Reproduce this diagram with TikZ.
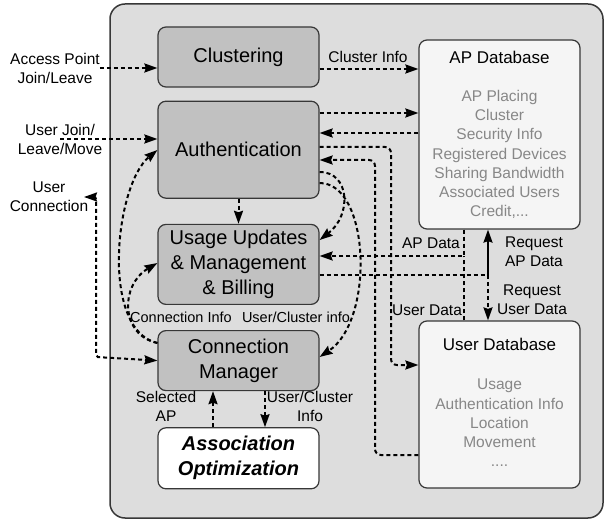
\documentclass[tikz,border=0pt]{standalone}
\usepackage{fontspec}
\setmainfont{Liberation Sans}
\usetikzlibrary{arrows.meta, positioning}
\definecolor{panelgray}{RGB}{221,221,221}
\definecolor{boxgray}{RGB}{193,193,193}
\definecolor{dbfill}{RGB}{245,245,245}
\definecolor{itemgray}{RGB}{135,135,135}
\definecolor{rim}{RGB}{55,55,55}
\def\boxfont{\fontsize{20}{25}\selectfont}
\def\lblfont{\fontsize{15.5}{19}\selectfont}
\tikzstyle{panel} = [draw=rim, line width=1.5pt, rounded corners=15pt, fill=panelgray]
\tikzstyle{block} = [rectangle, rounded corners=8pt, draw=rim, line width=1.2pt, fill=boxgray, minimum width=161pt, inner sep=0pt, align=center, font=\boxfont]
\tikzstyle{dbase} = [block, fill=dbfill]
\tikzstyle{dbtitle} = [inner sep=0pt, font=\fontsize{17}{20}\selectfont]
\tikzstyle{items} = [inner sep=0pt, align=center, text=itemgray, font=\fontsize{15.5}{19.2}\selectfont]
\tikzstyle{lbl} = [inner sep=0pt, align=center, font=\lblfont]
\tikzstyle{dline} = [line width=2pt, dash pattern=on 4pt off 3pt, rounded corners=6pt]
\tikzstyle{aro} = [->, dline]

\begin{document}
\begin{tikzpicture}[x=1pt, y=-1pt, >={Stealth[length=13pt,width=9pt,inset=1.5pt]}]
  \useasboundingbox (0,0) rectangle (605,521);
  \draw[panel] (110,4) rectangle (603,518);

  % processing stack
  \node (clus)  [block, minimum height=60pt] at (238.5,57) {Clustering};
  \node (auth)  [block, minimum height=97pt, below=13pt of clus] {Authentication};
  \node (usage) [block, minimum height=80pt, below=25pt of auth] {Usage Updates\\\& Management\\\& Billing};
  \node (cm)    [block, minimum height=60pt, below=25pt of usage] {Connection\\Manager};
  \node (assoc) [block, minimum height=61pt, fill=white, font=\boxfont\bfseries\itshape, below=36pt of cm] {Association\\Optimization};

  % databases
  \node (apdb) [dbase, minimum height=189pt] at (499.5,134.5) {};
  \node (aptitle) [dbtitle] at (499.5,57) {AP Database};
  \node (apitems) [items] at (499.5,154.5) {AP Placing\\Cluster\\Security Info\\Registered Devices\\Sharing Bandwidth\\Associated Users\\Credit,...};
  \node (udb) [dbase, minimum height=167pt] at (499.5,404.5) {};
  \node (utitle) [dbtitle] at (499.5,344) {User Database};
  \node (uitems) [items] at (499.5,423) {Usage\\Authentication Info\\Location\\Movement\\....};

  % outside inputs
  \node (apjoin) [lbl] at (55,68) {Access Point\\Join/Leave};
  \node (ujoin)  [lbl] at (60,139) {User Join/\\Leave/Move};
  \node (ucon)   [lbl] at (49,197) {User\\Connection};
  \coordinate (uctip) at (84,197);

  \draw [aro] (apjoin.east) -- (apjoin.east -| clus.west);
  \draw [aro] (ujoin.center) -- (ujoin.center -| auth.west);
  \draw [aro,<->,rounded corners=2pt] (uctip) -| (96,357) -- (cm.west);

  % labels
  \node (lclus) [lbl] at (368,57) {Cluster Info};
  \node (lapd)  [lbl] at (431,243) {AP Data};
  \node (lusd)  [lbl] at (427,310) {User Data};
  \node (lreqa) [lbl] at (534,252) {Request\\AP Data};
  \node (lrequ) [lbl] at (532,300) {Request\\User Data};
  \node (lcon)  [lbl, font=\fontsize{14.5}{18}\selectfont] at (181,317) {Connection Info};
  \node (lucl)  [lbl, font=\fontsize{14.5}{18}\selectfont] at (296,317) {User/Cluster info};
  \node (lsel)  [lbl] at (166,406) {Selected\\AP};
  \node (luci)  [lbl] at (310,406) {User/Cluster\\Info};

  \draw [aro] (clus.east |- 0,69) -- (apdb.west |- 0,69);
  \draw [aro] (auth.east |- 0,113) -- (apdb.west |- 0,113);
  \draw [aro] (apdb.west |- 0,133) -- (auth.east |- 0,133);
  \draw [aro] (auth.east |- 0,147) -| (391,365) -- (udb.west |- 0,365);
  \draw [aro] (udb.west |- 0,455) -| (375,160) -- (auth.east |- 0,160);
  \draw [aro] (auth.east |- 0,172) .. controls (350,172) and (352,215) .. (usage.east |- 0,240);
  \draw [aro] (auth.east |- 0,183) .. controls (370,183) and (375,320) .. (cm.east |- 0,357);

  \draw [aro] (auth) -- (usage);
  \draw [aro] (assoc.north -| 213,0) -- (cm.south -| 213,0);
  \draw [aro] (cm.south -| 265,0) -- (assoc.north -| 265,0);

  \draw [aro] (cm.west |- 0,343) .. controls (100,330) and (115,185) .. (auth.west |- 0,150);
  \draw [aro] (cm.west |- 0,343) .. controls (120,335) and (120,285) .. (usage.west |- 0,263);

  % database data lines
  \draw [aro,rounded corners=0pt] (apdb.south -| 464,0) |- (usage.east |- 0,256);
  \draw [dline] (udb.north -| 464,0) -- (464,256);
  \coordinate (req) at (488,275);
  \draw [dline] (usage.east |- req) -- (req);
  \draw [->, line width=2pt] (req) -- (apdb.south -| req);
  \draw [aro] (req) -- (udb.north -| req);

\end{tikzpicture}
\end{document}
